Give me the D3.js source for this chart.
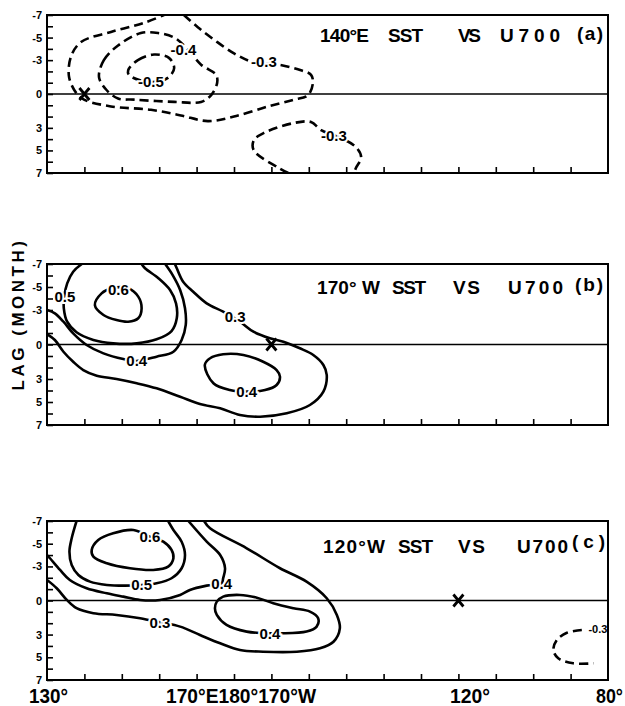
<!DOCTYPE html>
<html><head><meta charset="utf-8">
<script src="https://cdn.jsdelivr.net/npm/d3@7"></script>
<style>body{margin:0;background:#fff}svg{display:block}</style>
</head><body>
<svg id="chart" width="625" height="706"></svg>
<script>
// ---------------- DATA ----------------
const lonTicks = [140,150,160,170,180,190,200,210,220,230,240,250,260,270];
const lagTicks = [-7,-6,-5,-4,-3,-2,-1,0,1,2,3,4,5,6,7];
const lagLabels = [-7,-5,-3,0,3,5,7];
const bottomLabels = ["130°","170°E180°170°W","120°","80°"];
const yTitle = "LAG (MONTH)";
const titleA = ["140°E","SST","VS","U700","(a)"];
const titleB = ["170° W","SST","VS","U700","(b)"];
const titleC = ["120°W","SST","VS","U700","(c)"];
const xMarkers = [[140,0],[190,0],[240,0]];   // base longitude of each panel, lag 0

// panel (a): negative correlations (dashed)  [lon (deg E), lag (month)]
const aNeg03 = [[166.6,-7],[170.4,-5.9],[174.7,-4.8],[180,-3.6],[185.3,-2.8],[191.8,-2.6],[197.9,-2.1],[200.6,-1.7],[201.1,-1.0],[199.8,0.1],[196,0.5],[189.1,1.1],[180,2.0],[173,2.4],[165.8,1.9],[157.8,1.4],[147.1,1.1],[139.9,0.5],[137.8,-0.1],[135.9,-1.5],[136.4,-3.3],[139.1,-4.6],[147.1,-5.5],[155.9,-6.3],[161.3,-7]];
const aNeg04 = [[143.9,-1.5],[145.2,-3.0],[149,-4.3],[155.1,-5.4],[159.7,-5.4],[164,-5.0],[167.5,-4.0],[171.2,-2.6],[175.2,-1.7],[175.5,-1.0],[173.9,0.1],[171.2,0.7],[164,0.7],[153.3,0.5],[149,0.4],[145.8,-0.4]];
const aNeg05 = [[151.7,-2.1],[154.3,-3.0],[158.6,-3.5],[162.6,-3.2],[164,-2.3],[162.6,-1.5],[159.7,-1.1],[155.1,-1.2],[151.9,-1.7]];
const aNeg03Low = [[194.5,7],[192,6.55],[185.3,5.0],[185.3,4.1],[188,3.45],[196,2.57],[200.6,2.48],[203.3,3.2],[208.6,3.9],[212.6,4.7],[214,5.6],[212.6,6.55],[212.1,7]];
const aLabels = [["-0.4",166.5,-3.9],["-0.3",188,-2.85],["-0.5",157.8,-1.1],["-0.3",206.7,3.7]];

// panel (b)
const b06 = [[142.8,-3.43],[144.6,-4.45],[147.3,-4.89],[151.7,-4.89],[154.4,-4.16],[155.3,-3.15],[154.4,-2.28],[151.7,-1.98],[148.6,-2.13],[145.1,-2.57]];
const b05 = [[139.3,-7],[137.0,-6.33],[135.4,-5.32],[134.6,-4.16],[134.5,-3.15],[135.4,-1.98],[137.9,-1.06],[142.4,-0.39],[147.7,-0.10],[154.0,-0.10],[159.3,-0.45],[163.3,-1.17],[164.7,-2.28],[164.5,-3.58],[162.9,-4.74],[159.8,-5.76],[156.2,-6.63],[155.3,-7]];
const b04 = [[161.6,-7],[163.6,-6.04],[165.6,-4.74],[166.9,-3.15],[167.1,-1.70],[166.0,-0.39],[163.8,0.63],[159.3,1.06],[154.0,1.43],[150.4,1.26],[145.1,0.77],[140.6,0.04],[137.0,-0.97],[134.4,-1.98],[132.1,-2.71],[130,-3.0]];
const b03 = [[130,-0.9],[132.1,-0.39],[134.4,0.63],[137.0,1.50],[139.7,2.22],[143.3,2.71],[148.6,3.0],[154.0,3.37],[159.3,3.81],[165.6,4.54],[170.9,5.17],[176.3,5.55],[181.6,6.13],[187.0,6.28],[194.1,5.98],[200.3,5.26],[203.9,4.10],[204.8,2.65],[203.9,1.78],[201.2,0.91],[197.6,0.33],[193.2,-0.24],[189.6,-0.54],[185.2,-1.11],[181.6,-1.98],[177.1,-2.85],[172.7,-3.58],[169.1,-4.59],[166.4,-5.46],[164.7,-6.63],[164.2,-7]];
const b04in = [[172.2,1.78],[173.6,1.20],[177.1,0.85],[182.5,0.91],[187.8,1.50],[191.4,2.22],[192.3,2.80],[191.4,3.52],[188.3,3.96],[183.4,4.10],[178.9,3.96],[174.5,3.37]];
const bLabels = [["0.6",149.1,-4.74],["0.5",134.8,-4.16],["0.4",154.0,1.43],["0.3",180.3,-2.42],["0.4",183.4,4.10]];

// panel (c)
const c06 = [[141.95,-4.45],[143.7,-5.33],[147.7,-5.92],[153.1,-6.21],[157.5,-5.62],[161.1,-5.18],[163.3,-4.45],[163.8,-3.72],[162.4,-2.98],[158.4,-2.69],[152.2,-2.84],[146.0,-3.28],[142.4,-3.86]];
const c05 = [[137.9,-7],[136.6,-5.48],[136.0,-4.30],[136.6,-3.13],[138.4,-2.25],[141.5,-1.66],[146.0,-1.37],[150.9,-1.31],[155.3,-1.37],[159.3,-1.52],[163.3,-1.96],[166.0,-2.84],[166.9,-4.0],[166.0,-5.18],[163.8,-6.21],[162.4,-7]];
const c04 = [[167.8,-7],[172.7,-5.18],[176.3,-4.0],[177.6,-2.84],[177.1,-1.96],[176.7,-1.52],[172.7,-1.31],[168.2,-0.93],[165.6,-0.49],[160.2,-0.05],[154.9,-0.05],[150.4,-0.34],[146.0,-0.64],[140.6,-1.08],[136.1,-1.81],[133.5,-2.69],[130.8,-3.72],[130,-4.0]];
const c03 = [[130,-1.81],[132.6,-1.08],[135.3,-0.05],[137.9,0.68],[142.4,1.12],[148.6,1.27],[154.9,1.56],[160.2,1.92],[165.6,2.30],[170.9,3.04],[176.3,3.77],[181.6,4.36],[187.8,4.51],[196.8,4.51],[203.0,4.21],[206.6,3.63],[208.3,2.45],[207.5,1.27],[204.8,-0.2],[199.4,-1.66],[192.3,-2.84],[183.4,-4.60],[173.6,-6.36],[172.0,-7]];
const c04in = [[175.4,0.10],[177.1,-0.34],[181.6,-0.49],[186.1,-0.25],[190.5,0.24],[195.9,0.68],[200.3,0.98],[202.5,1.56],[202.1,2.30],[199.4,2.74],[192.3,2.89],[189.6,2.89],[183.4,2.74],[178.0,2.15],[175.4,1.27],[174.9,0.68]];
const cNeg03 = [[273.0,2.60],[269.0,2.84],[266.3,3.48],[265.4,4.36],[266.7,5.09],[270.7,5.53],[276.1,5.53]];
const cLabels = [["0.6",157.5,-5.62],["0.5",155.3,-1.37],["0.4",176.7,-1.52],["0.3",160.2,1.92],["0.4",189.6,2.89],["-0.3",277.3,2.55]];

// ---------------- LAYOUT ----------------
const svg = d3.select("#chart");
const FONT = "'Liberation Sans', Arial, sans-serif";
const x = d3.scaleLinear().domain([130,280]).range([47,608]);

const panels = [
  {id:"a", top:15,  bottom:173, title:titleA, tx:[320,388,458,500,577], tw:[49,35,23,60,26], ty:[42,42,42,42,40],
   contours:[{d:aNeg03,closed:false,dash:true},{d:aNeg04,closed:true,dash:true},{d:aNeg05,closed:true,dash:true},{d:aNeg03Low,closed:false,dash:true}],
   labels:aLabels, marker:xMarkers[0]},
  {id:"b", top:264, bottom:425, title:titleB, tx:[317,392,453,508,575], tw:[63,34,27,55,28], ty:[294,294,294,294,291],
   contours:[{d:b06,closed:true},{d:b05,closed:false},{d:b04,closed:false},{d:b03,closed:false},{d:b04in,closed:true}],
   labels:bLabels, marker:xMarkers[1]},
  {id:"c", top:521, bottom:680, title:titleC, tx:[323,398,458,517,572], tw:[62,35,27,51,33], ty:[553,553,553,553,548],
   contours:[{d:c06,closed:true},{d:c05,closed:false},{d:c04,closed:false},{d:c03,closed:false},{d:c04in,closed:true},{d:cNeg03,closed:false,dash:true}],
   labels:cLabels, marker:xMarkers[2]}
];

panels.forEach(p => {
  const y = d3.scaleLinear().domain([-7,7]).range([p.top,p.bottom]);
  const g = svg.append("g");
  const clipId = "clip-" + p.id;
  svg.append("defs").append("clipPath").attr("id",clipId)
    .append("rect").attr("x",x(130)).attr("y",p.top).attr("width",x(280)-x(130)).attr("height",p.bottom-p.top);

  // zero line
  g.append("line").attr("x1",x(130)).attr("x2",x(280)).attr("y1",y(0)).attr("y2",y(0))
    .attr("stroke","#000").attr("stroke-width",1.6);

  // contours
  const cg = g.append("g").attr("clip-path",`url(#${clipId})`);
  p.contours.forEach(c => {
    const line = d3.line().x(d=>x(d[0])).y(d=>y(d[1]))
      .curve(c.closed ? d3.curveCatmullRomClosed.alpha(0.5) : d3.curveCatmullRom.alpha(0.5));
    cg.append("path").attr("d",line(c.d)).attr("fill","none").attr("stroke","#000")
      .attr("stroke-width",2.6).attr("stroke-linejoin","round")
      .attr("stroke-dasharray",c.dash ? "9,5" : null);
  });

  // contour labels
  g.selectAll("text.cl").data(p.labels).join("text").attr("class","cl")
    .attr("x",d=>x(d[1])).attr("y",d=>y(d[2]))
    .attr("text-anchor","middle").attr("dominant-baseline","central")
    .attr("font-family",FONT).attr("font-weight","bold")
    .attr("font-size", d => (p.id==="c" && d[0]==="-0.3") ? 11 : 15)
    .attr("stroke","#fff").attr("stroke-width",4).attr("paint-order","stroke")
    .attr("fill","#000").text(d=>d[0]);

  // X marker
  g.append("path")
    .attr("transform",`translate(${x(p.marker[0])},${y(p.marker[1])})`)
    .attr("d","M-5,-6L5,6M-5,6L5,-6").attr("stroke","#000").attr("stroke-width",2.8).attr("fill","none");

  // axes (ticks inward)
  const xAxis = d3.axisBottom(x).tickValues(lonTicks).tickSize(-6).tickFormat("");
  const xa = g.append("g").attr("transform",`translate(0,${p.bottom})`).call(xAxis);
  xa.select(".domain").remove();
  xa.selectAll("line").attr("stroke","#000").attr("stroke-width",1.6);

  const yAxis = d3.axisLeft(y).tickValues(lagTicks).tickSize(-6).tickPadding(5)
    .tickFormat(d => lagLabels.includes(d) ? String(d) : "");
  const ya = g.append("g").attr("transform",`translate(${x(130)},0)`).call(yAxis);
  ya.select(".domain").remove();
  ya.selectAll("line").attr("stroke","#000").attr("stroke-width",1.6);
  ya.selectAll("text").attr("font-family",FONT).attr("font-weight","bold").attr("font-size",11).attr("fill","#000");

  // frame
  g.append("rect").attr("x",x(130)).attr("y",p.top).attr("width",x(280)-x(130)).attr("height",p.bottom-p.top)
    .attr("fill","none").attr("stroke","#000").attr("stroke-width",2);

  // title
  p.title.forEach((w,i) => {
    g.append("text").attr("x",p.tx[i]).attr("y",p.ty[i])
      .attr("font-family",FONT).attr("font-weight","bold").attr("font-size",19)
      .attr("textLength",p.tw[i]).attr("lengthAdjust","spacing")
      .attr("fill","#000").text(w);
  });
});

// bottom longitude labels
const blX = [29,166,450,596], blW = [39,150,40,27];
bottomLabels.forEach((t,i) => {
  svg.append("text").attr("x",blX[i]).attr("y",703)
    .attr("font-family",FONT).attr("font-weight","bold").attr("font-size",20)
    .attr("textLength",blW[i]).attr("lengthAdjust","spacingAndGlyphs")
    .attr("fill","#000").text(t);
});

// y title
svg.append("text").attr("transform","translate(24,314) rotate(-90)")
  .attr("text-anchor","middle").attr("font-family",FONT).attr("font-weight","bold")
  .attr("font-size",17).attr("letter-spacing",3.5).attr("fill","#000").text(yTitle);
</script>
</body></html>
